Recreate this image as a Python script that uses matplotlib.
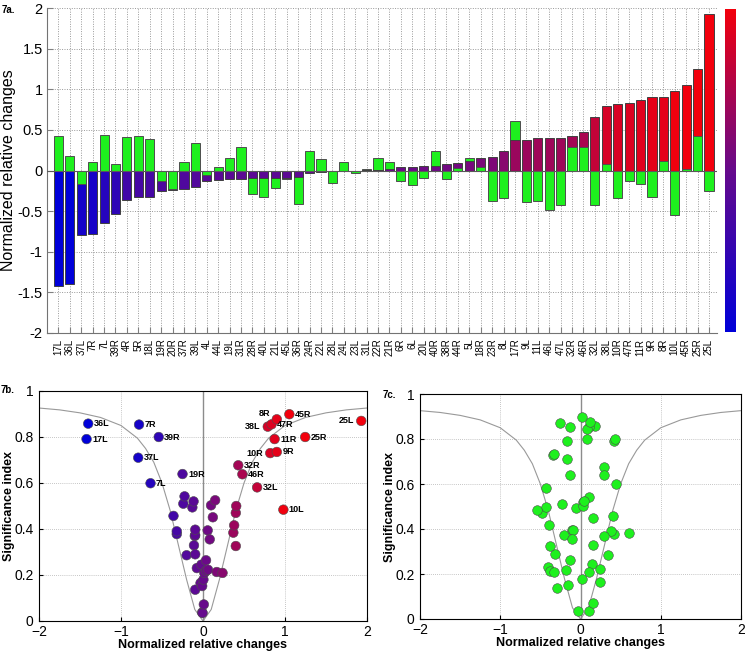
import numpy as np
import matplotlib
matplotlib.use("Agg")
import matplotlib.pyplot as plt
from matplotlib.colors import LinearSegmentedColormap, Normalize

plt.rcParams.update({
    "font.family": ["Liberation Sans", "DejaVu Sans"],
    "axes.linewidth": 0.8,
})

# region labels, sorted by the normalized relative change
LABELS = ["17L", "36L", "37L", "7R", "7L", "39R", "4R", "5R", "18L", "19R",
          "20R", "37R", "39L", "4L", "44L", "19L", "31R", "28R", "40L", "21L",
          "45L", "36R", "24R", "22L", "28L", "24L", "23L", "31L", "22R", "21R",
          "6R", "6L", "20L", "40R", "38R", "44R", "5L", "18R", "23R", "8L",
          "17R", "9L", "11L", "46L", "47L", "32R", "46R", "32L", "38L", "10R",
          "47R", "11R", "9R", "8R", "10L", "45R", "25R", "25L"]

# coloured bars / panel 7b x values
CHANGE = [-1.42, -1.40, -0.79, -0.78, -0.64, -0.54, -0.36, -0.32, -0.32, -0.25,
          -0.24, -0.225, -0.20, -0.13, -0.115, -0.11, -0.10, -0.095, -0.095, -0.095,
          -0.095, -0.075, -0.03, -0.02, -0.01, -0.01, -0.005, 0.005, 0.01, 0.016,
          0.037, 0.037, 0.057, 0.061, 0.082, 0.098, 0.12, 0.148, 0.168, 0.238,
          0.37, 0.38, 0.40, 0.40, 0.405, 0.43, 0.48, 0.66, 0.79, 0.82,
          0.836, 0.873, 0.90, 0.90, 0.98, 1.053, 1.246, 1.93]

# green bars / panel 7c x values
OTHER = [0.42, 0.18, -0.17, 0.11, 0.44, 0.086, 0.41, 0.42, 0.385, -0.13,
         -0.225, 0.11, 0.34, -0.06, 0.037, 0.15, 0.295, -0.29, -0.32, -0.21,
         -0.11, -0.41, 0.245, 0.14, -0.155, 0.10, -0.03, 0.02, 0.15, 0.107,
         -0.127, -0.176, -0.094, 0.246, -0.11, 0.03, 0.156, 0.04, -0.377, -0.336,
         0.61, -0.39, -0.377, -0.48, -0.43, 0.287, 0.295, -0.43, 0.086, -0.34,
         -0.135, -0.168, -0.328, 0.119, -0.545, 0.02, 0.43, -0.254]

# significance index (y of 7b and 7c)
SIGNIF = [0.791, 0.858, 0.71, 0.854, 0.599, 0.80, 0.457, 0.378, 0.39, 0.639,
          0.51, 0.542, 0.286, 0.494, 0.52, 0.329, 0.37, 0.136, 0.29, 0.373,
          0.397, 0.23, 0.165, 0.245, 0.152, 0.037, 0.035, 0.18, 0.072, 0.209,
          0.264, 0.218, 0.394, 0.223, 0.355, 0.503, 0.451, 0.525, 0.213, 0.209,
          0.384, 0.416, 0.326, 0.47, 0.50, 0.677, 0.638, 0.581, 0.845, 0.73,
          0.855, 0.791, 0.735, 0.877, 0.484, 0.899, 0.80, 0.87]

# threshold curve (right half, mirrored for the left)
CURVE_X = [0.0, 0.1, 0.2, 0.3, 0.4, 0.5, 0.6, 0.7, 0.8, 1.0, 1.25, 1.5, 1.75, 2.0]
CURVE_Y = [0.0, 0.05, 0.18, 0.33, 0.48, 0.60, 0.69, 0.75, 0.795, 0.85, 0.885, 0.905, 0.918, 0.926]

# labelled points in 7b: side of the text
ANNOT_RIGHT = ["36L", "17L", "7R", "39R", "37L", "7L", "19R", "45R", "47R",
               "11R", "25R", "9R", "32R", "46R", "32L", "10L"]
ANNOT_LEFT = ["38L", "10R", "25L", "8R"]

GREEN = "#1ef01e"
cmap = LinearSegmentedColormap.from_list(
    "br", [(0.0, 0.0, 0.85), (0.40, 0.04, 0.55), (0.95, 0.0, 0.05)])
norm = Normalize(-1, 1, clip=True)

fig = plt.figure(figsize=(7.45, 6.54), dpi=100)
W, H = 745.0, 654.0


def box(l, t, r, b):
    return [l / W, 1 - b / H, (r - l) / W, (b - t) / H]


# 7a bars
ax = fig.add_axes(box(47, 8, 717, 333))
pos = np.arange(1, len(LABELS) + 1)
ch = np.array(CHANGE)
ot = np.array(OTHER)
bar_cols = cmap(norm(ch))
cb = ax.bar(pos, ch, width=0.8, color=bar_cols, edgecolor="0.25", linewidth=0.7)
gb = ax.bar(pos, ot, width=0.8, color=GREEN, edgecolor="0.3", linewidth=0.7)
# smaller bar drawn on top of the larger one
for i in range(len(pos)):
    if abs(ch[i]) > abs(ot[i]):
        cb[i].set_zorder(2)
        gb[i].set_zorder(3)
    else:
        cb[i].set_zorder(3)
        gb[i].set_zorder(2)
ax.axhline(0, color="0.35", linewidth=0.8, zorder=4)
ax.set_xlim(0, 58.7)
ax.set_ylim(-2, 2)
ax.set_xticks(pos)
ax.set_xticklabels(LABELS, rotation=90, fontsize=7)
ax.set_yticks(np.arange(-2, 2.01, 0.5))
ax.set_yticklabels(["-2", "-1.5", "-1", "-0.5", "0", "0.5", "1", "1.5", "2"], fontsize=10.5)
ax.tick_params(axis="both", direction="in", color="0.5", length=4)
ax.tick_params(axis="x", pad=4)
ax.tick_params(axis="y", pad=3)
ax.grid(True, linestyle=(0, (1, 1.5)), color="0.6", linewidth=0.7)
ax.set_axisbelow(True)
for s in ["top", "right"]:
    ax.spines[s].set_visible(False)
for s in ["left", "bottom"]:
    ax.spines[s].set_color("0.45")
ax.set_ylabel("Normalized relative changes", fontsize=11.5)
ax.yaxis.set_label_coords(-31 / 670, 0.5)
fig.text(2 / W, 1 - 10 / H, "7a.", fontsize=7, fontweight="bold", va="center")

# colorbar
cax = fig.add_axes(box(725, 9, 736, 332))
grad = np.linspace(0, 1, 256).reshape(-1, 1)
cax.imshow(grad, aspect="auto", cmap=cmap, origin="lower", extent=[0, 1, -2, 2])
cax.set_xticks([])
cax.set_yticks([])
for s in cax.spines.values():
    s.set_visible(False)

# curve points (both halves)
cx = np.array(CURVE_X)
cy = np.array(CURVE_Y)
full_x = np.concatenate([-cx[::-1], cx[1:]])
full_y = np.concatenate([cy[::-1], cy[1:]])


def volcano(axv, label_x):
    axv.plot(full_x, full_y, color="0.6", linewidth=0.8, zorder=2)
    axv.plot([0, 0], [0, 1], color="0.55", linewidth=1.0, zorder=2)
    axv.set_xlim(-2, 2)
    axv.set_ylim(0, 1)
    axv.set_xticks([-2, -1, 0, 1, 2])
    axv.set_yticks([0, 0.2, 0.4, 0.6, 0.8, 1])
    axv.set_yticklabels(["0", "0.2", "0.4", "0.6", "0.8", "1"])
    axv.tick_params(labelsize=10, direction="in", length=3)
    axv.tick_params(axis="y", pad=4)
    axv.tick_params(axis="x", pad=3)
    axv.grid(True, linestyle=(0, (1, 1.5)), color="0.7", linewidth=0.6)
    axv.set_axisbelow(True)
    axv.set_xlabel("Normalized relative changes", fontsize=9, fontweight="bold", labelpad=0)
    axv.set_ylabel("Significance index", fontsize=9, fontweight="bold")
    axv.yaxis.set_label_coords(label_x, 0.5)


# 7b
axb = fig.add_axes(box(39, 391, 367, 621))
volcano(axb, -24 / 328)
axb.scatter(ch, SIGNIF, c=bar_cols, s=48, edgecolors="0.3", linewidths=0.4, zorder=3)
for lab, x, y in zip(LABELS, ch, SIGNIF):
    if lab in ANNOT_RIGHT:
        axb.annotate(lab, (x, y), xytext=(4, 0), textcoords="offset points",
                     fontsize=6.5, fontweight="bold", va="center", ha="left")
    elif lab in ANNOT_LEFT:
        dy = 4 if lab == "8R" else 0
        axb.annotate(lab, (x, y), xytext=(-5, dy), textcoords="offset points",
                     fontsize=6.5, fontweight="bold", va="center", ha="right")
fig.text(1 / W, 1 - 390 / H, "7b.", fontsize=7, fontweight="bold", va="center")

# 7c
axc = fig.add_axes(box(420, 394, 741, 619))
volcano(axc, -24 / 321)
axc.scatter(ot, SIGNIF, c=GREEN, s=48, edgecolors="0.3", linewidths=0.4, zorder=3)
fig.text(383 / W, 1 - 395 / H, "7c.", fontsize=7, fontweight="bold", va="center")

fig.savefig("out.png", dpi=100)
